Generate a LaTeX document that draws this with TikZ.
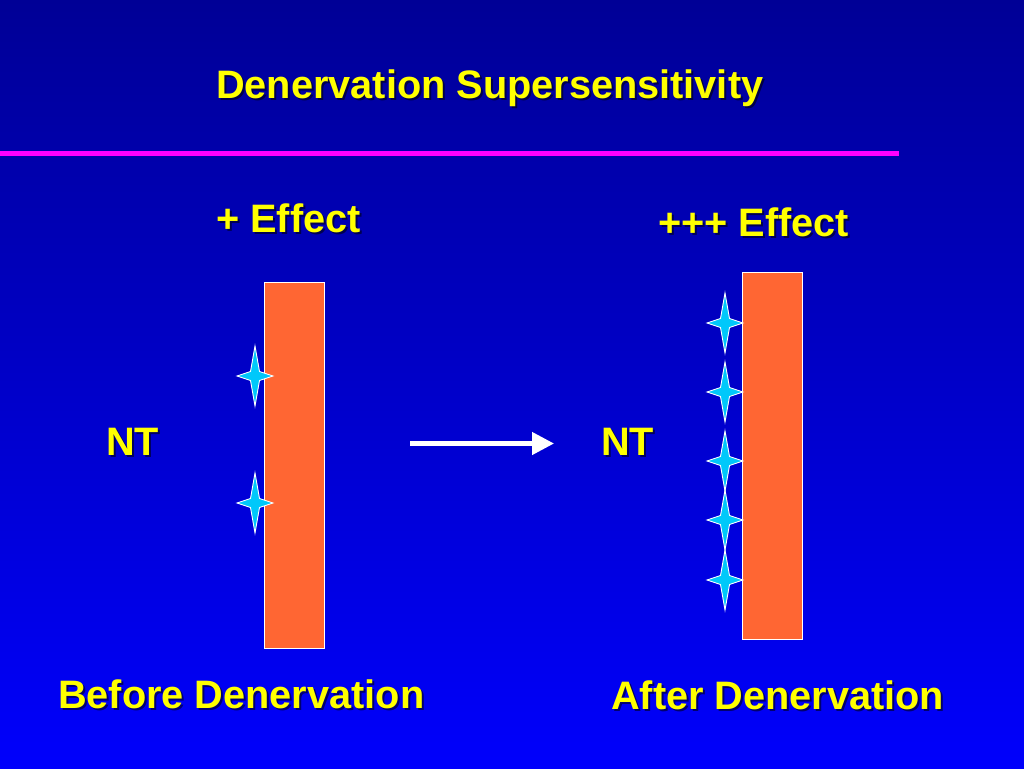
\documentclass[tikz,border=0pt]{standalone}
\usepackage{fontspec}
\setmainfont{Liberation Sans}
\usetikzlibrary{arrows.meta}
\definecolor{bgtop}{RGB}{0,0,150}
\definecolor{bgbot}{RGB}{0,0,252}
\definecolor{pinkline}{RGB}{255,0,255}
\definecolor{barfill}{RGB}{255,102,51}
\definecolor{starfill}{RGB}{0,200,250}
\definecolor{txtyellow}{RGB}{255,255,0}
\tikzset{
  lbl/.style={inner sep=0pt, anchor=base west, text=txtyellow,
    font=\bfseries\fontsize{39.7}{46}\selectfont},
  shd/.style={inner sep=0pt, anchor=base west, text=black, text opacity=0.55,
    font=\bfseries\fontsize{39.7}{46}\selectfont},
  bar/.style={fill=barfill, draw=white, line width=1.2pt},
  starshape/.style={fill=starfill, draw=white, line width=0.9pt},
}
\newcommand{\mystar}[3]{% name, x, y
  \draw[starshape] (#2,#3-30) -- (#2+4.5,#3-4.5) -- (#2+18,#3) -- (#2+4.5,#3+4.5)
    -- (#2,#3+30) -- (#2-4.5,#3+4.5) -- (#2-18,#3) -- (#2-4.5,#3-4.5) -- cycle;
  \coordinate (#1) at (#2,#3);}
\newcommand{\shtext}[4]{% name, x, y, text
  \node[shd] (#1s) at (#2+2,#3+2) {#4};
  \node[lbl] (#1) at (#2,#3) {#4};}
\begin{document}
\begin{tikzpicture}[x=1pt,y=-1pt]
\useasboundingbox (0,0) rectangle (1024,768);
\shade[top color=bgtop, bottom color=bgbot] (0,0) rectangle (1024,768);
% title and rule
\shtext{title}{216}{98}{Denervation Supersensitivity}
\draw[pinkline, line width=5pt] (0,153.5) coordinate (ruleA) -- (899,153.5) coordinate (ruleB);
% effect labels
\shtext{effL}{216}{232}{+ Effect}
\shtext{effR}{658}{236}{+++ Effect}
% NT labels
\shtext{ntL}{106}{455}{NT}
\shtext{ntR}{601}{455}{NT}
% bars
\node[bar, minimum width=60pt, minimum height=366pt, inner sep=0pt, anchor=north west] (barL) at (264,282) {};
\node[bar, minimum width=60pt, minimum height=367pt, inner sep=0pt, anchor=north west] (barR) at (742,272) {};
% receptors
\mystar{sL1}{255}{376}
\mystar{sL2}{255}{503}
\mystar{sR1}{725}{323}
\mystar{sR2}{725}{392}
\mystar{sR3}{725}{461}
\mystar{sR4}{725}{520}
\mystar{sR5}{725}{580}
% arrow
\coordinate (arA) at (410,443.5);
\coordinate (arB) at (554,443.5);
\draw[white, line width=4.5pt, -{Triangle[length=22pt,width=22pt]}] (arA) -- (arB);
% bottom labels
\shtext{before}{58}{708}{Before Denervation}
\shtext{after}{611}{709}{After Denervation}
\end{tikzpicture}
\end{document}
